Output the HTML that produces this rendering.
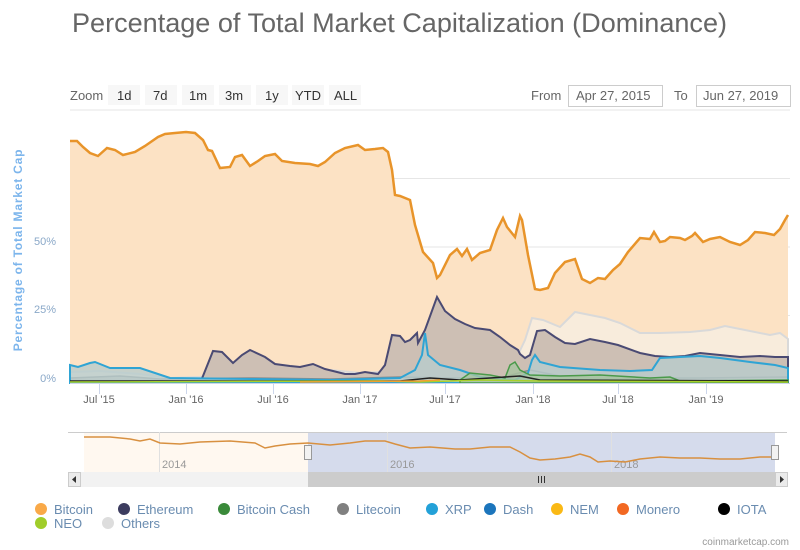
<!DOCTYPE html>
<html><head><meta charset="utf-8"><style>
html,body{margin:0;padding:0;background:#fff;width:800px;height:550px;overflow:hidden}
svg{display:block;font-family:"Liberation Sans",sans-serif}
</style></head><body>
<svg width="800" height="550" viewBox="0 0 800 550">
<text x="72" y="32" font-size="27" fill="#666" textLength="655" lengthAdjust="spacingAndGlyphs">Percentage of Total Market Capitalization (Dominance)</text>
<text x="70" y="100" font-size="13" fill="#666">Zoom</text>
<g font-size="13" fill="#333">
<rect x="108" y="85" width="32" height="20" fill="#f7f7f7"/><text x="117" y="100">1d</text>
<rect x="145" y="85" width="32" height="20" fill="#f7f7f7"/><text x="153" y="100">7d</text>
<rect x="182" y="85" width="32" height="20" fill="#f7f7f7"/><text x="189" y="100">1m</text>
<rect x="219" y="85" width="32" height="20" fill="#f7f7f7"/><text x="225" y="100">3m</text>
<rect x="256" y="85" width="32" height="20" fill="#f7f7f7"/><text x="265" y="100">1y</text>
<rect x="292" y="85" width="32" height="20" fill="#f7f7f7"/><text x="295" y="100">YTD</text>
<rect x="329" y="85" width="32" height="20" fill="#f7f7f7"/><text x="334" y="100">ALL</text>
</g>
<text x="531" y="100" font-size="13" fill="#666">From</text>
<rect x="568.5" y="85.5" width="94" height="21" fill="#fff" stroke="#ccc"/>
<text x="576" y="100" font-size="13" fill="#666">Apr 27, 2015</text>
<text x="674" y="100" font-size="13" fill="#666">To</text>
<rect x="696.5" y="85.5" width="94" height="21" fill="#fff" stroke="#ccc"/>
<text x="703" y="100" font-size="13" fill="#666">Jun 27, 2019</text>
<text transform="translate(22,250) rotate(-90)" text-anchor="middle" font-size="12" font-weight="bold" fill="#7cb5ec" letter-spacing="0.8">Percentage of Total Market Cap</text>
<g font-size="11" fill="#8aa8c8" text-anchor="end">
<text x="56" y="382">0%</text><text x="56" y="313">25%</text><text x="56" y="245">50%</text>
</g>
<g stroke="#e6e6e6"><line x1="70" x2="790" y1="110" y2="110"/><line x1="70" x2="790" y1="178.5" y2="178.5"/><line x1="70" x2="790" y1="247" y2="247"/><line x1="70" x2="790" y1="315.5" y2="315.5"/></g>
<path d="M70,141 L77,141 83,147 90,153 98,156 107,148 115,150 123,155 135,152 145,146 158,137 165,134 175,133 186,132 195,133 203,140 208,150 212,151 220,168 230,167 235,157 242,155 250,166 258,161 265,156 275,154 282,161 295,163 310,164 318,166 325,162 335,153 345,148 358,145 365,150 375,149 383,148 388,152 392,170 395,195 400,196 410,200 415,225 423,252 433,263 437,278 440,275 450,255 457,249 462,256 467,249 472,260 480,253 490,250 497,230 503,218 507,227 515,237 520,216 522,220 528,255 535,289 540,290 548,288 555,273 565,262 575,259 582,279 590,283 598,278 605,279 613,270 620,264 628,252 640,238 650,239 654,232 660,242 665,241 670,237 680,238 685,240 692,236 695,233 703,242 710,239 720,237 730,242 740,245 748,240 755,232 765,233 774,235 780,229 785,220 788,215 L788,383 L70,383 Z" fill="#fce2c4" stroke="none"/>
<path d="M70,372 L100,371 140,374 170,378 200,377 230,370 260,372 280,365 300,367 330,370 360,373 380,372 400,365 415,358 430,345 450,345 470,348 500,355 515,361 525,340 532,318 543,320 560,327 575,312 590,315 605,318 620,323 640,333 660,333 690,332 710,330 725,326 745,330 770,335 780,333 788,339 L788,383 70,383Z" fill="#f8ecdc" stroke="#d9d9d9" stroke-width="2"/>
<path d="M200,383 L203,376 213,351 222,352 233,363 242,355 250,350 265,357 275,364 290,366 300,367 313,364 325,369 345,374 355,374 365,372 378,374 385,365 392,335 400,336 405,342 410,340 417,333 418,343 425,330 437,297 445,311 455,319 465,324 475,328 490,330 500,337 510,345 518,350 520,354 525,358 530,355 537,331 545,330 555,337 565,343 575,344 590,339 605,342 618,345 640,353 655,356 670,357 685,356 700,353 720,355 740,357 760,356 775,357 788,357 L788,383Z" fill="#cdbfb4" stroke="#4a4a73" stroke-width="2"/>
<path d="M70,378 L120,376 160,379 250,378 330,379 400,377 450,378 500,378 530,370 560,376 600,378 700,378 788,377 L788,383 70,383Z" fill="#c8c0b8" stroke="#8a8a8a" stroke-width="1.5"/>
<path d="M70,365 L78,367 90,363 95,362 110,368 140,368 155,373 170,378 250,379 330,380 400,378 415,370 422,355 425,333 428,355 440,365 460,370 480,377 515,380 528,373 532,360 535,355 540,362 560,367 600,370 630,371 652,370 660,358 680,357 700,356 720,358 750,362 775,365 788,368 L788,383 70,383Z" fill="#b8cccc" fill-opacity="0.8" stroke="#2fa4d4" stroke-width="2"/>
<path d="M460,383 L460,380 470,373 490,375 505,378 510,365 515,362 520,370 530,375 560,376 600,375 650,378 670,377 680,381 788,380 L788,383Z" fill="#a8c4a0" fill-opacity="0.8" stroke="#4a9a4a" stroke-width="1.5"/>
<path d="M70,381 L400,381 430,378 460,380 520,376 540,380 788,381" fill="none" stroke="#222" stroke-width="1.5"/>
<path d="M70,382 L380,381 420,382 480,380 540,381 788,382" fill="none" stroke="#a8d02a" stroke-width="1.5"/>
<path d="M300,382 L420,381 440,380" fill="none" stroke="#f0a030" stroke-width="1.5"/>
<path d="M70,141 L77,141 83,147 90,153 98,156 107,148 115,150 123,155 135,152 145,146 158,137 165,134 175,133 186,132 195,133 203,140 208,150 212,151 220,168 230,167 235,157 242,155 250,166 258,161 265,156 275,154 282,161 295,163 310,164 318,166 325,162 335,153 345,148 358,145 365,150 375,149 383,148 388,152 392,170 395,195 400,196 410,200 415,225 423,252 433,263 437,278 440,275 450,255 457,249 462,256 467,249 472,260 480,253 490,250 497,230 503,218 507,227 515,237 520,216 522,220 528,255 535,289 540,290 548,288 555,273 565,262 575,259 582,279 590,283 598,278 605,279 613,270 620,264 628,252 640,238 650,239 654,232 660,242 665,241 670,237 680,238 685,240 692,236 695,233 703,242 710,239 720,237 730,242 740,245 748,240 755,232 765,233 774,235 780,229 785,220 788,215" fill="none" stroke="#e8942a" stroke-width="2.5"/>
<line x1="70" x2="790" y1="383.5" y2="383.5" stroke="#ccd6eb"/>
<g stroke="#ccd6eb"><line x1="99.5" x2="99.5" y1="384" y2="394"/><line x1="186.5" x2="186.5" y1="384" y2="394"/><line x1="273.5" x2="273.5" y1="384" y2="394"/><line x1="360.5" x2="360.5" y1="384" y2="394"/><line x1="445.5" x2="445.5" y1="384" y2="394"/><line x1="533.5" x2="533.5" y1="384" y2="394"/><line x1="618.5" x2="618.5" y1="384" y2="394"/><line x1="706.5" x2="706.5" y1="384" y2="394"/></g>
<g font-size="11" fill="#666" text-anchor="middle">
<text x="99" y="403">Jul '15</text><text x="186" y="403">Jan '16</text><text x="273" y="403">Jul '16</text><text x="360" y="403">Jan '17</text><text x="445" y="403">Jul '17</text><text x="533" y="403">Jan '18</text><text x="618" y="403">Jul '18</text><text x="706" y="403">Jan '19</text>
</g>
<rect x="84" y="432" width="224" height="40" fill="#fff8f0"/>
<rect x="308" y="432" width="467" height="40" fill="#d5dbec"/>
<line x1="68" x2="787" y1="432.5" y2="432.5" stroke="#ccc"/>
<g stroke="#e0e0e0"><line x1="159.5" x2="159.5" y1="432" y2="472"/><line x1="387.5" x2="387.5" y1="432" y2="472"/><line x1="611.5" x2="611.5" y1="432" y2="472"/></g>
<g font-size="11" fill="#999"><text x="162" y="468">2014</text><text x="390" y="468">2016</text><text x="614" y="468">2018</text></g>
<path d="M84,437 L110,437 130,439 140,441 150,439 160,443 180,444 200,442 230,441 255,443 265,448 275,446 290,444 308,443 330,445 350,443 365,441 385,441 395,444 410,448 430,447 455,449 470,449 490,447 510,447 520,452 530,458 540,460 555,459 570,457 580,454 590,457 598,462 610,461 625,462 640,459 660,457 680,458 700,458 720,459 740,459 760,457 775,457" fill="none" stroke="#d89040" stroke-width="1.5"/>
<rect x="68" y="472" width="719" height="15" fill="#f2f2f2"/>
<rect x="308" y="472" width="467" height="15" fill="#cccccc"/>
<rect x="68.5" y="472.5" width="12" height="14" fill="#ebebeb" stroke="#ccc"/>
<rect x="775.5" y="472.5" width="12" height="14" fill="#ebebeb" stroke="#ccc"/>
<path d="M76,476 L72,479.5 76,483Z M780,476 L784,479.5 780,483Z" fill="#333"/>
<g stroke="#333"><line x1="538.5" x2="538.5" y1="476" y2="483"/><line x1="541.5" x2="541.5" y1="476" y2="483"/><line x1="544.5" x2="544.5" y1="476" y2="483"/></g>
<rect x="304.5" y="445.5" width="7" height="14" fill="#f2f2f2" stroke="#999"/>
<rect x="771.5" y="445.5" width="7" height="14" fill="#f2f2f2" stroke="#999"/>
<g font-size="13" fill="#6a8cb0">
<circle cx="41" cy="509" r="6" fill="#f7931a" opacity="0.8"/><text x="54" y="514">Bitcoin</text>
<circle cx="124" cy="509" r="6" fill="#3c3c5f"/><text x="137" y="514">Ethereum</text>
<circle cx="224" cy="509" r="6" fill="#3a8a3a"/><text x="237" y="514">Bitcoin Cash</text>
<circle cx="343" cy="509" r="6" fill="#808080"/><text x="356" y="514">Litecoin</text>
<circle cx="432" cy="509" r="6" fill="#23a1d8"/><text x="445" y="514">XRP</text>
<circle cx="490" cy="509" r="6" fill="#1c75bc"/><text x="503" y="514">Dash</text>
<circle cx="557" cy="509" r="6" fill="#fab915"/><text x="570" y="514">NEM</text>
<circle cx="623" cy="509" r="6" fill="#f26822"/><text x="636" y="514">Monero</text>
<circle cx="724" cy="509" r="6" fill="#000"/><text x="737" y="514">IOTA</text>
<circle cx="41" cy="523" r="6" fill="#a0cd2a"/><text x="54" y="528">NEO</text>
<circle cx="108" cy="523" r="6" fill="#ddd"/><text x="121" y="528">Others</text>
</g>
<text x="789" y="545" font-size="10" fill="#999" text-anchor="end">coinmarketcap.com</text>
</svg>
</body></html>
